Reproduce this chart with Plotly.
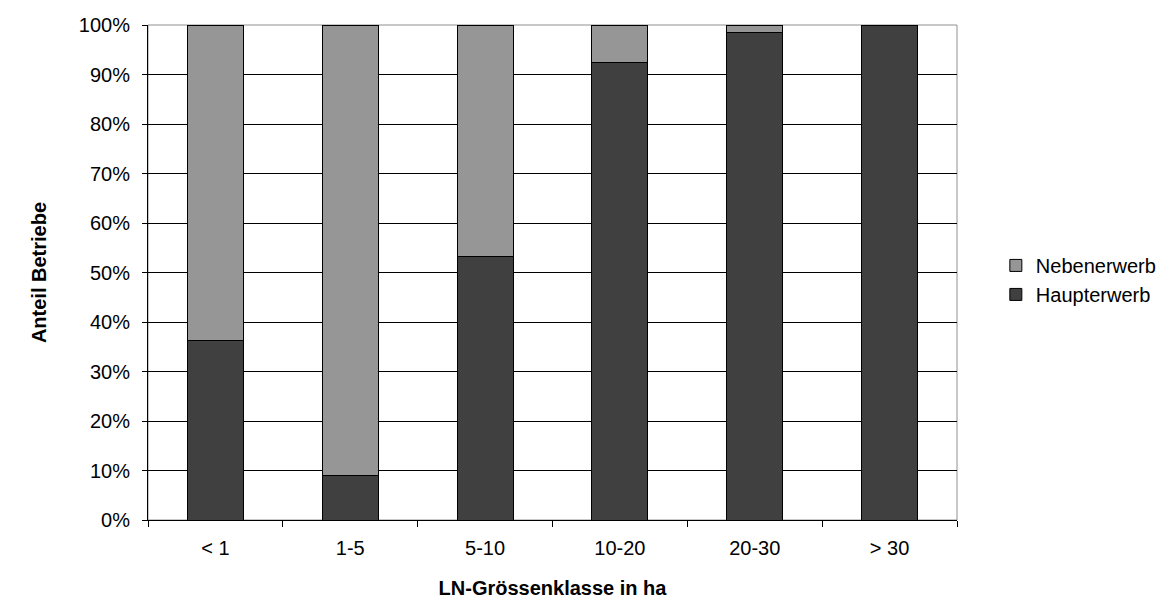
import plotly.graph_objects as go

categories = ["< 1", "1-5", "5-10", "10-20", "20-30", "> 30"]
haupterwerb = [36.3, 8.9, 53.2, 92.4, 98.4, 100.0]
nebenerwerb = [round(100 - v, 1) for v in haupterwerb]

font_family = "Liberation Sans, Arial, sans-serif"
FS = 20

fig = go.Figure()
fig.add_trace(go.Bar(
    x=categories, y=[v / 100 for v in haupterwerb], name="Haupterwerb",
    marker=dict(color="#404040", line=dict(color="#000000", width=1)),
))
fig.add_trace(go.Bar(
    x=categories, y=[v / 100 for v in nebenerwerb], name="Nebenerwerb",
    marker=dict(color="#969696", line=dict(color="#000000", width=1)),
))

fig.update_layout(
    barmode="stack",
    bargap=0.585,
    width=1169, height=602,
    margin=dict(l=148, r=212, t=25, b=82, autoexpand=False),
    paper_bgcolor="white", plot_bgcolor="white",
    font=dict(family=font_family, size=FS, color="#000000"),
    legend=dict(
        x=1.048, y=0.485, xanchor="left", yanchor="middle",
        traceorder="reversed", font=dict(size=FS),
        itemwidth=30, tracegroupgap=0,
    ),
    showlegend=True,
    shapes=[dict(type="rect", xref="paper", yref="paper", x0=0, x1=1, y0=0, y1=1,
                 line=dict(color="#909090", width=1), layer="below")],
)

fig.update_yaxes(
    range=[0, 1], dtick=0.1, tickformat=".0%",
    showgrid=True, gridcolor="#000000", gridwidth=1,
    showline=True, linecolor="#000000", linewidth=1,
    ticks="outside", ticklen=5, tickcolor="#000000",
    ticklabelstandoff=8, automargin=False,
    zeroline=False,
    title=dict(text="<b>Anteil Betriebe</b>", standoff=26, font=dict(size=FS)),
)
fig.update_xaxes(
    showgrid=False,
    showline=True, linecolor="#000000", linewidth=1,
    ticks="outside", ticklen=6, tickcolor="#000000",
    tickson="boundaries",
    ticklabelstandoff=10, automargin=False,
    title=dict(text="<b>LN-Grössenklasse in ha</b>", standoff=22, font=dict(size=FS)),
)

fig.write_html(
    "out.html",
    config={"displayModeBar": False},
    post_script="document.body.style.margin='0px';document.body.style.padding='0px';",
)
